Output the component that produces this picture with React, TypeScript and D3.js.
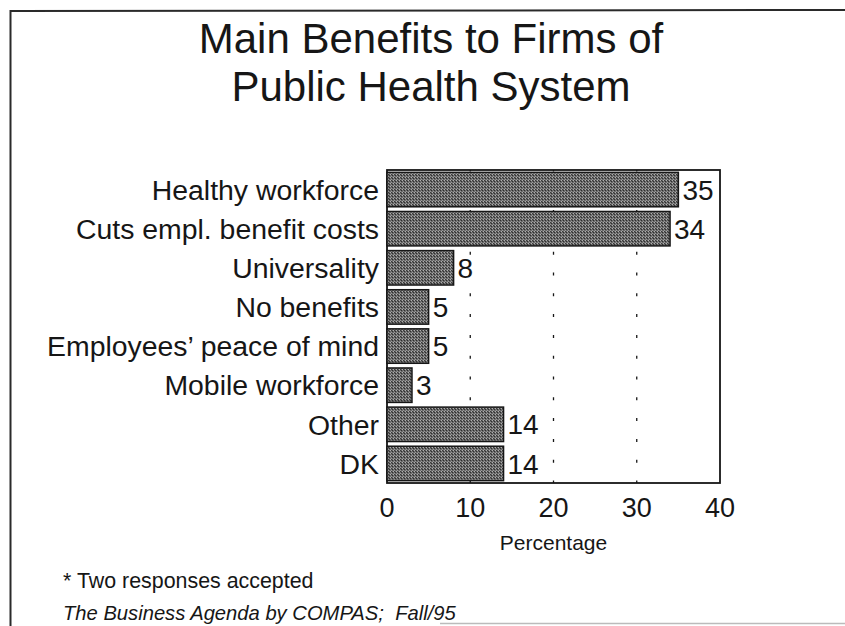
import React from "react";
import * as d3 from "d3";

const categories = [
  "Healthy workforce",
  "Cuts empl. benefit costs",
  "Universality",
  "No benefits",
  "Employees\u2019 peace of mind",
  "Mobile workforce",
  "Other",
  "DK",
];
const values = [35, 34, 8, 5, 5, 3, 14, 14];
const xTicks = [0, 10, 20, 30, 40];
const gridTicks = [10, 20, 30];
const titleLines = ["Main Benefits to Firms of", "Public Health System"];
const xAxisTitle = "Percentage";
const footnote = "* Two responses accepted";
const source = "The Business Agenda by COMPAS;  Fall/95";

const W = 845;
const H = 626;
const FONT = "'Liberation Sans', Arial, Helvetica, sans-serif";
const INK = "#161616";

export default function App() {
  const x = d3.scaleLinear().domain([0, 40]).range([387, 720]);
  const y = d3
    .scaleBand<string>()
    .domain(categories)
    .range([170, 483])
    .paddingInner(0.12)
    .paddingOuter(0.06);

  return (
    <svg
      width={W}
      height={H}
      style={{ position: "absolute", left: 0, top: 0, background: "#fff" }}
      fontFamily={FONT}
    >
      <defs>
        <pattern id="stipple" width="3" height="3" patternUnits="userSpaceOnUse">
          <rect width="3" height="3" fill="#6a6a6a" />
          <rect x="0" y="0" width="1" height="1" fill="#b0b0b0" />
          <rect x="2" y="1" width="1" height="1" fill="#2e2e2e" />
          <rect x="1" y="2" width="1" height="1" fill="#9a9a9a" />
          <rect x="1" y="0" width="1" height="1" fill="#3a3a3a" />
        </pattern>
      </defs>
      <rect width={W} height={H} fill="#fff" />
      {/* outer frame */}
      <path d={`M10.5,${H} L10.5,11 L${W},10`} fill="none" stroke="#2a2a2a" strokeWidth={2} />
      <line x1={440} y1={H - 2.5} x2={W} y2={H - 2.5} stroke="#bbb" strokeWidth={1.5} />

      {/* title */}
      {titleLines.map((t, i) => (
        <text key={t} x={431} y={53 + i * 48} textAnchor="middle" fontSize={42} fill={INK}>
          {t}
        </text>
      ))}

      {/* grid */}
      {gridTicks.map((t) => (
        <line
          key={t}
          x1={x(t)}
          x2={x(t)}
          y1={170}
          y2={483}
          stroke={INK}
          strokeWidth={1.3}
          strokeDasharray="3,17.8"
          strokeDashoffset={1.5}
        />
      ))}

      {/* plot frame */}
      <rect x={x(0)} y={170} width={x(40) - x(0)} height={313} fill="none" stroke={INK} strokeWidth={1.8} />

      {/* bars */}
      {categories.map((c, i) => (
        <g key={c}>
          <rect
            x={x(0)}
            y={y(c)}
            width={x(values[i]) - x(0)}
            height={y.bandwidth()}
            fill="url(#stipple)"
            stroke={INK}
            strokeWidth={1.5}
          />
          <text
            x={x(values[i]) + 4}
            y={(y(c) as number) + y.bandwidth() / 2}
            dy="0.36em"
            fontSize={28}
            fill={INK}
          >
            {values[i]}
          </text>
          <text
            x={379}
            y={(y(c) as number) + y.bandwidth() / 2}
            dy="0.36em"
            textAnchor="end"
            fontSize={28.4}
            fill={INK}
          >
            {c}
          </text>
        </g>
      ))}

      {/* x tick labels */}
      {xTicks.map((t) => (
        <text key={t} x={x(t)} y={517} textAnchor="middle" fontSize={27} fill={INK}>
          {t}
        </text>
      ))}
      <text x={(x(0) + x(40)) / 2} y={550} textAnchor="middle" fontSize={21} fill={INK}>
        {xAxisTitle}
      </text>

      {/* notes */}
      <text x={63} y={588} fontSize={21.4} fill={INK}>
        {footnote}
      </text>
      <text x={63} y={620} fontSize={20.2} fontStyle="italic" fill={INK} style={{ whiteSpace: "pre" }}>
        {source}
      </text>
    </svg>
  );
}
